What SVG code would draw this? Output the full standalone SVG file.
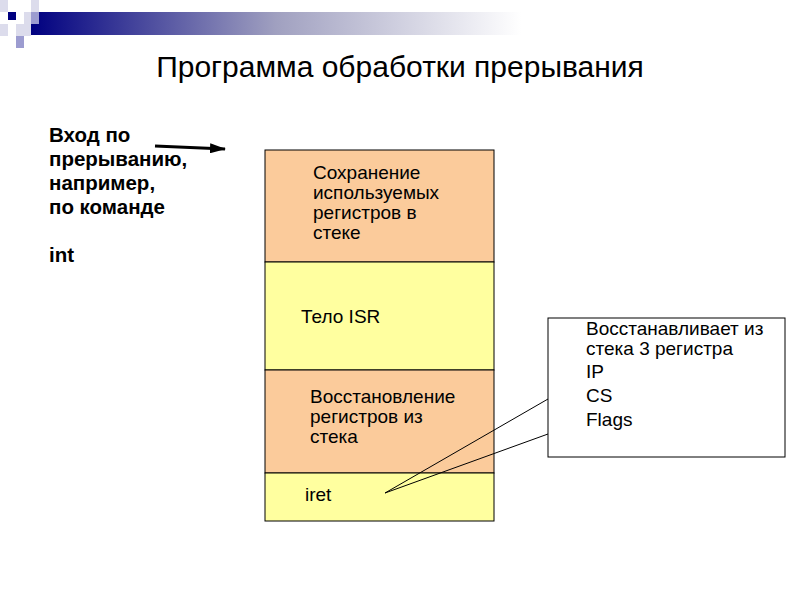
<svg xmlns="http://www.w3.org/2000/svg" width="800" height="600" viewBox="0 0 800 600">
<style>
text{font-family:"Liberation Sans",Arial,sans-serif;fill:#000}
.t{font-size:19px}
.b{font-size:20.5px;font-weight:bold}
.box{stroke:#000;stroke-width:1}
</style>
<defs>
<linearGradient id="g" x1="0" x2="1"><stop offset="0" stop-color="#000080"/><stop offset="0.5" stop-color="#a0a0c0"/><stop offset="1" stop-color="#ffffff"/></linearGradient>
<marker id="ah" markerWidth="16" markerHeight="10" refX="15" refY="5" orient="auto" markerUnits="userSpaceOnUse"><path d="M0,0L16,5L0,10z" fill="#000"/></marker>
</defs>
<rect x="0" y="0" width="800" height="600" fill="#fff"/>
<g id="decor">
<rect x="31" y="12" width="490" height="23" fill="url(#g)"/>
<rect x="0" y="0" width="8" height="12" fill="#dcdcec"/>
<rect x="31" y="0" width="8" height="12" fill="#dcdcec"/>
<rect x="8" y="12" width="8" height="8" fill="#000080"/>
<rect x="24" y="12" width="8" height="12" fill="#dcdcec"/>
<rect x="31" y="12" width="8" height="12" fill="#9c9cd0"/>
<rect x="16" y="24" width="15" height="12" fill="#dcdcec"/>
<rect x="16" y="36" width="8" height="12" fill="#9c9cd0"/>
<rect x="0" y="24" width="8" height="12" fill="#dcdcec"/>
</g>
<text x="400" y="77" text-anchor="middle" style="font-size:30px">Программа обработки прерывания</text>
<g id="entry">
<text class="b" x="49" y="142">Вход по</text>
<text class="b" x="49" y="166">прерыванию,</text>
<text class="b" x="49" y="190">например,</text>
<text class="b" x="49" y="214">по команде</text>
<text class="b" x="49" y="262">int</text>
</g>
<g id="save"><rect class="box" x="265" y="150" width="229" height="112" fill="#fbcb9b"/>
<text class="t" x="313" y="179">Сохранение</text><text class="t" x="313" y="199">используемых</text><text class="t" x="313" y="219">регистров в</text><text class="t" x="313" y="239">стеке</text></g>
<g id="body"><rect class="box" x="265" y="262" width="229" height="108" fill="#ffff9f"/>
<text class="t" x="301" y="323">Тело ISR</text></g>
<g id="restore"><rect class="box" x="265" y="370" width="229" height="103" fill="#fbcb9b"/>
<text class="t" x="310" y="403">Восстановление</text><text class="t" x="310" y="423">регистров из</text><text class="t" x="310" y="443">стека</text></g>
<g id="iret"><rect class="box" x="265" y="473" width="229" height="48" fill="#ffff9f"/>
<text class="t" x="305" y="501">iret</text></g>
<g id="note"><rect class="box" x="548" y="318" width="237" height="139" fill="#fff"/>
<text class="t" x="586" y="335">Восстанавливает из</text><text class="t" x="586" y="355">стека 3 регистра</text>
<text class="t" x="586" y="378">IP</text><text class="t" x="586" y="402">CS</text><text class="t" x="586" y="426">Flags</text></g>
<g id="connectors" stroke="#000">
<line x1="155" y1="146" x2="225" y2="149" stroke-width="3" marker-end="url(#ah)"/>
<polyline points="548,399 385,493 548,434" fill="none" stroke-width="1"/>
</g>
</svg>
